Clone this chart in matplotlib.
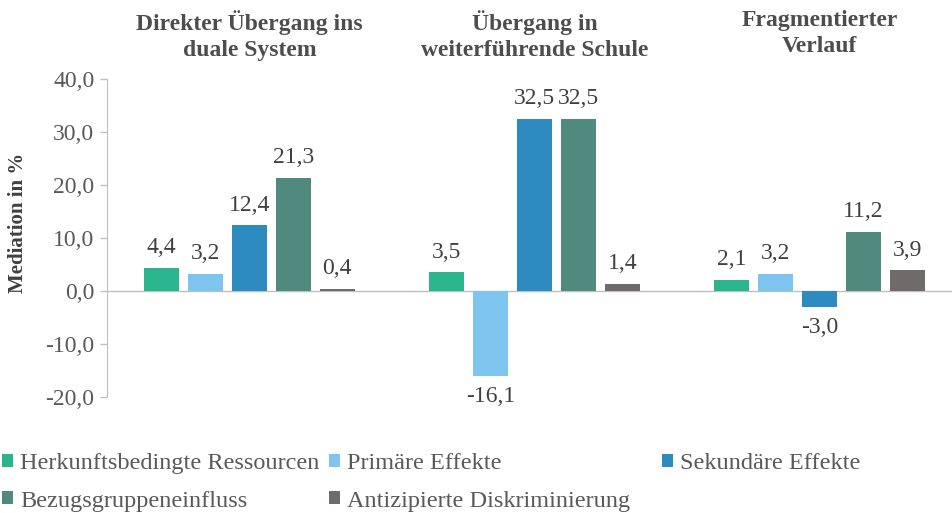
import matplotlib
matplotlib.use('Agg')
import matplotlib.pyplot as plt
import matplotlib.transforms as mtransforms
import numpy as np

groups = ['Direkter Übergang ins\nduale System',
          'Übergang in\nweiterführende Schule',
          'Fragmentierter\nVerlauf']
series = ['Herkunftsbedingte Ressourcen', 'Primäre Effekte', 'Sekundäre Effekte',
          'Bezugsgruppeneinfluss', 'Antizipierte Diskriminierung']
values = [
    [4.4, 3.5, 2.1],
    [3.2, -16.1, 3.2],
    [12.4, 32.5, -3.0],
    [21.3, 32.5, 11.2],
    [0.4, 1.4, 3.9],
]
colors = ['#2bb58f', '#7dc5ee', '#2e8bc0', '#50897d', '#6f6b6b']

plt.rcParams['font.family'] = ['Liberation Serif', 'DejaVu Serif']
grey = '#595959'

fig = plt.figure(figsize=(9.52, 5.13), dpi=100)
ax = fig.add_axes([107 / 952, 1 - 397 / 513, 1 - 107 / 952, (397 - 79) / 513])

x = np.arange(len(groups))
width = 0.123
step = 0.154
bars = []
for i, (name, vals, c) in enumerate(zip(series, values, colors)):
    pos = x + (i - 2) * step
    b = ax.bar(pos, vals, width, color=c, label=name, zorder=3)
    bars.append(b)
    for p, v in zip(pos, vals):
        txt = f'{v:.1f}'.replace('.', ',')
        if v >= 0:
            ax.annotate(txt, (p, v), xytext=(0, 7), textcoords='offset points',
                        ha='center', va='bottom', fontsize=17, color='#404040')
        else:
            ax.annotate(txt, (p, v), xytext=(0, -7), textcoords='offset points',
                        ha='center', va='top', fontsize=17, color='#404040')

ax.set_xlim(-0.5, 2.465)
ax.set_ylim(-20, 40)
ticks = np.arange(-20, 41, 10)
ax.set_yticks(ticks)
ax.set_yticklabels([f'{t:.1f}'.replace('.', ',') for t in ticks])
ax.tick_params(axis='y', labelsize=17, labelcolor=grey, color='#bfbfbf',
               length=5, width=1, pad=4)
ax.set_xticks([])
ax.axhline(0, color='#bfbfbf', lw=1, zorder=2)
for s in ['top', 'right', 'bottom']:
    ax.spines[s].set_visible(False)
ax.spines['left'].set_color('#bfbfbf')

fig.text(18 / 952, 1 - 223 / 513, 'Mediation in %', rotation=90, ha='center',
         va='center', fontsize=15, fontweight='bold', color='#404040')

trans = mtransforms.blended_transform_factory(ax.transData, fig.transFigure)
for xi, g in zip(x, groups):
    ax.text(xi, 1 - 10 / 513, g, transform=trans, ha='center', va='top',
            fontsize=17, fontweight='bold', color='#4d4d4d', linespacing=1.3)

# legend: three equal-width columns, filled row by row
cols = [[0, 3], [1, 4], [2]]
col_x = [2, 329, 662]
for cx, idx in zip(col_x, cols):
    leg = fig.legend([bars[k] for k in idx], [series[k] for k in idx],
                     loc='upper left', bbox_to_anchor=(cx / 952, 1 - 453 / 513),
                     frameon=False, fontsize=17.5, handlelength=0.45,
                     handleheight=0.45, handletextpad=0.3, labelcolor=grey,
                     borderaxespad=0, borderpad=0, labelspacing=0.68)

fig.savefig('out.png', dpi=100)
